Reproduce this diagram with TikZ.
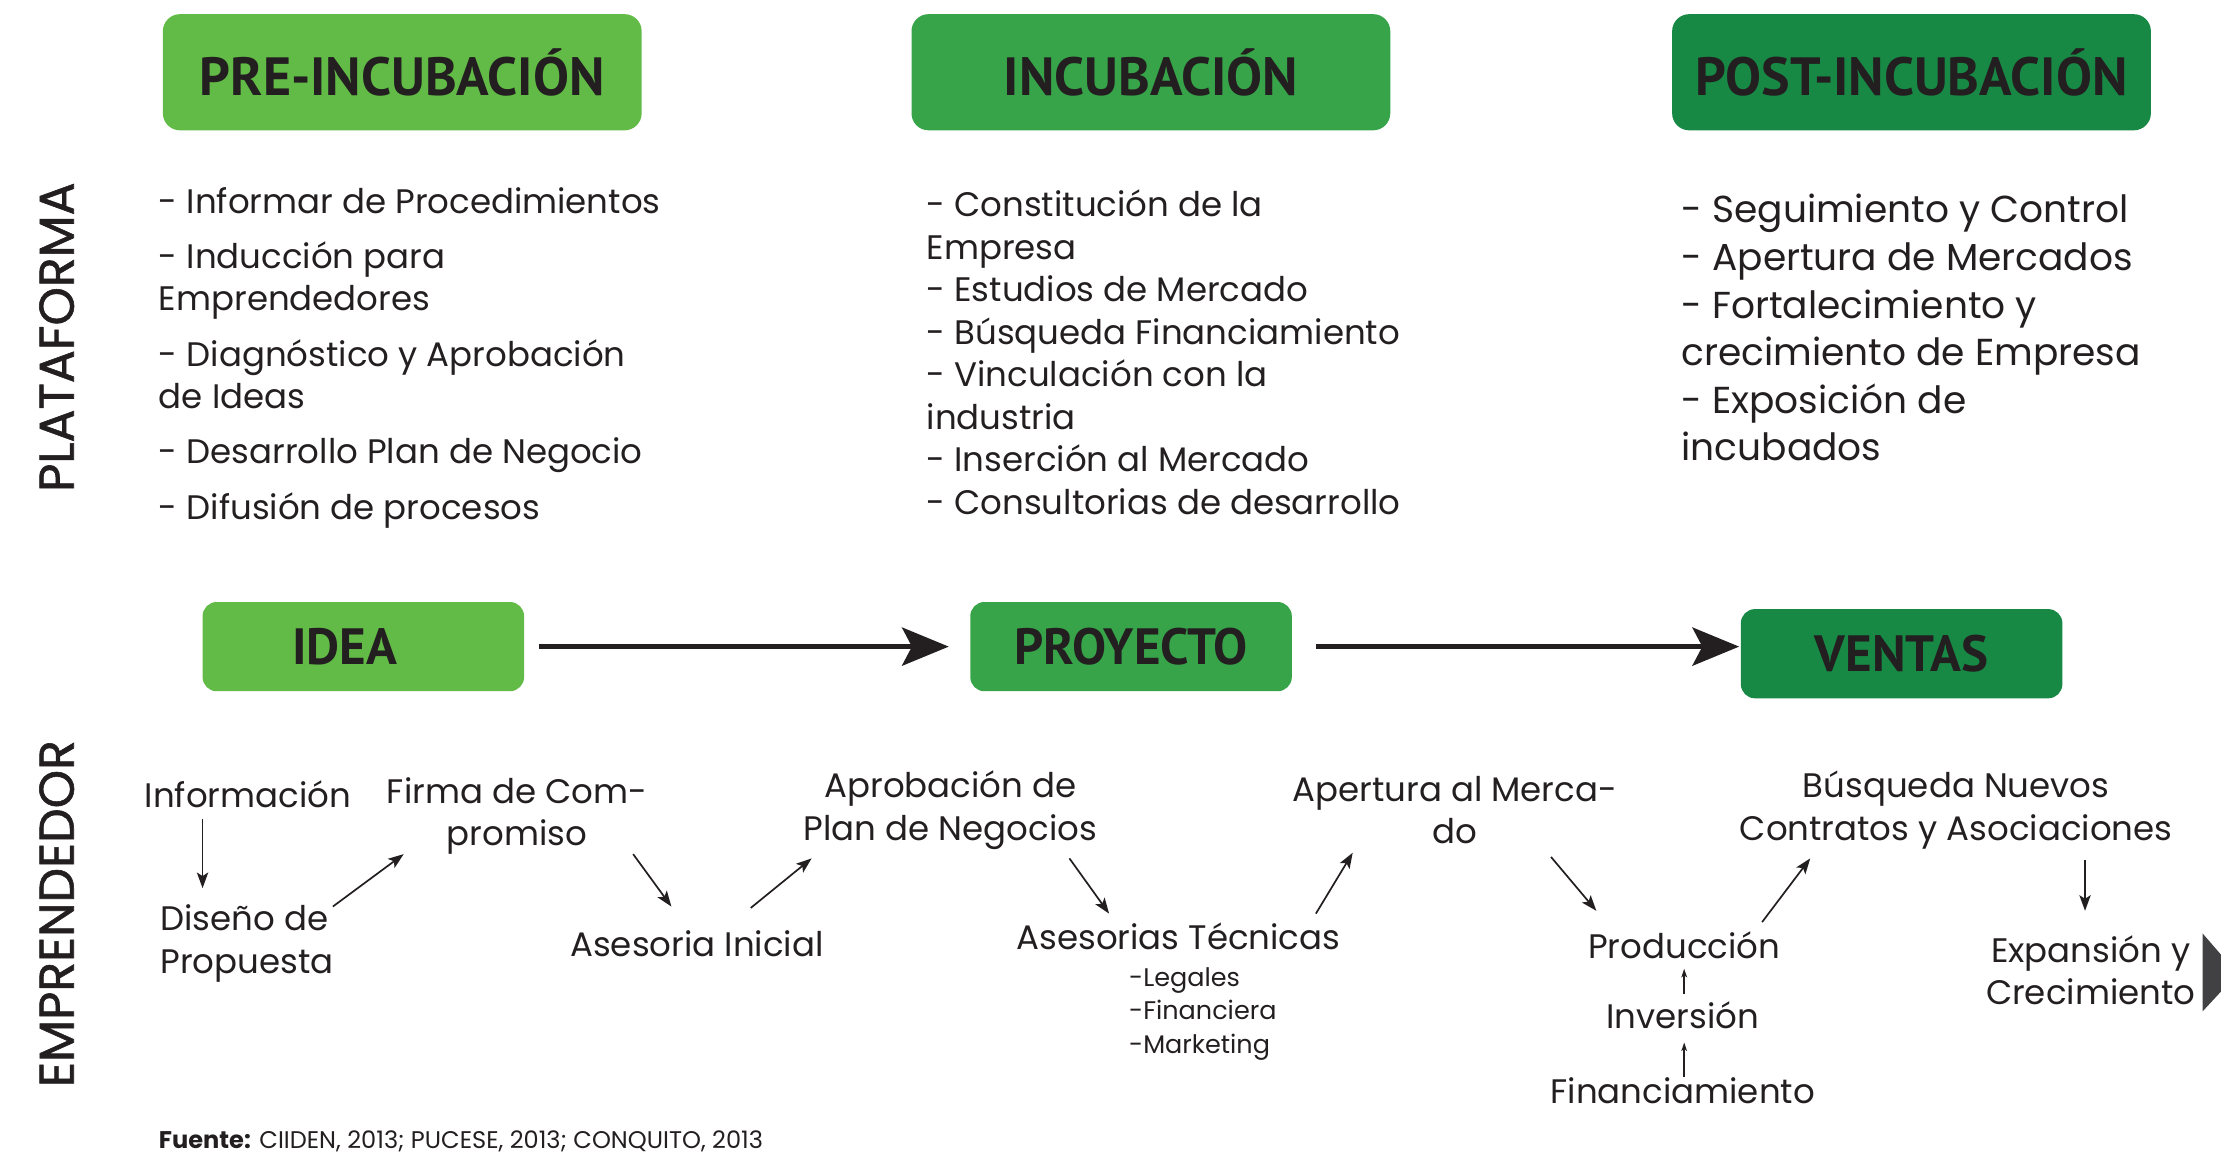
\documentclass[tikz,border=0pt]{standalone}
\usepackage{fontspec}
\setmainfont{Poppins}
\newfontfamily\headfont{PT Sans}
\newfontfamily\sidefont{Poppins}[FakeBold=1.2]
\usetikzlibrary{arrows.meta}
\definecolor{ink}{HTML}{231F20}
\definecolor{lightg}{HTML}{62BB46}
\definecolor{midg}{HTML}{37A44A}
\definecolor{darkg}{HTML}{188845}
\definecolor{tipgray}{HTML}{414042}

\begin{document}
\begin{tikzpicture}[
    x=1pt, y=-1pt,
    every node/.style={text=ink, inner sep=0pt},
    phase/.style ={rounded corners=12pt, minimum width=338pt, minimum height=82pt,
                   font=\headfont\bfseries\fontsize{38}{44}\selectfont},
    stage/.style ={rounded corners=10pt, minimum width=227pt, minimum height=63pt,
                   font=\headfont\bfseries\fontsize{36}{40}\selectfont},
    items/.style ={anchor=north west, align=left, font=\fontsize{24}{30}\selectfont},
    side/.style  ={rotate=90, font=\sidefont\fontsize{34.5}{38}\selectfont},
    txt/.style   ={align=center, font=\fontsize{24}{30}\selectfont},
    flow/.style  ={-{Stealth[length=33pt, width=27pt, inset=7pt]}, line width=3pt, draw=ink},
    link/.style  ={-{Stealth[length=11pt, width=8pt, inset=2.5pt]}, line width=1.2pt, draw=ink},
    tiny/.style  ={-{Stealth[length=6pt, width=4pt, inset=1.5pt]}, line width=1pt, draw=ink},
]
\useasboundingbox (0,0) rectangle (1568,814);

\node[phase, fill=lightg] (pre)  at (284,51)    {PRE-INCUBACIÓN};
\node[phase, fill=midg]   (inc)  at (812.5,51)  {INCUBACIÓN};
\node[phase, fill=darkg]  (post) at (1349.5,51) {POST-INCUBACIÓN};

\node[side] (plat) at (40,238) {PLATAFORMA};
\node[side] (empr) at (40,645) {EMPRENDEDOR};

\node[items] (prelist) at (112,132) {- Informar de Procedimientos\\[9pt]
    - Inducción para\\Emprendedores\\[9pt]
    - Diagnóstico y Aprobación\\de Ideas\\[9pt]
    - Desarrollo Plan de Negocio\\[9pt]
    - Difusión de procesos};
\node[items] (inclist) at (654,134) {- Constitución de la\\Empresa\\
    - Estudios de Mercado\\- Búsqueda Financiamiento\\
    - Vinculación con la\\industria\\
    - Inserción al Mercado\\- Consultorias de desarrollo};
\node[items, font=\fontsize{26.5}{33.6}\selectfont] (postlist) at (1187,137)
    {- Seguimiento y Control\\- Apertura de Mercados\\
     - Fortalecimiento y\\crecimiento de Empresa\\
     - Exposición de\\incubados};

\node[stage, fill=lightg] (idea) at (256.5,456.5)  {IDEA\hspace*{26pt}};
\node[stage, fill=midg]   (proj) at (798.5,456.5)  {PROYECTO};
\node[stage, fill=darkg]  (vent) at (1342.5,461.5) {VENTAS};
\draw[flow, shorten <=10pt, shorten >=15pt] (idea.east) -- (proj.west);
\draw[flow, shorten <=17pt, shorten >=1pt] (proj.east) -- (proj.east -| vent.west);

\node[txt] (info)  at (175,561)  {Información};
\node[txt] (firma) at (365,576)  {Firma de Com-\\promiso};
\node[txt, align=left, anchor=west] (dis) at (113,666) {Diseño de\\Propuesta};
\node[txt] (ases)  at (492,666)  {Asesoria Inicial};
\node[txt] (aprob) at (671,572)  {Aprobación de\\Plan de Negocios};
\node[txt] (tec)   at (832,661)  {Asesorias Técnicas};
\node[items, font=\fontsize{18}{23.5}\selectfont] (tecsub) at (797,683)
    {-Legales\\-Financiera\\-Marketing};
\node[txt] (apert) at (1027,572) {Apertura al Merca-\\do};
\node[txt] (prod)  at (1189,667) {Producción};
\node[txt] (inv)   at (1188,717) {Inversión};
\node[txt] (fin)   at (1188,770) {Financiamiento};
\node[txt] (busq)  at (1381,572) {Búsqueda Nuevos\\Contratos y Asociaciones};
\node[txt] (expn)  at (1476,685) {Expansión y\\Crecimiento};

\draw[link] ([shift={(-32,17)}]info.center) -- ([shift={(30,-39)}]dis.west);
\draw[link] ([shift={(122,-26)}]dis.west)   -- ([shift={(-80,27)}]firma.center);
\draw[link] ([shift={(82,27)}]firma.center) -- ([shift={(-18,-26)}]ases.center);
\draw[link] ([shift={(38,-25)}]ases.center) -- ([shift={(-98,34)}]aprob.center);
\draw[link] ([shift={(84,34)}]aprob.center) -- ([shift={(-49,-16)}]tec.center);
\draw[link] ([shift={(97,-16)}]tec.center)  -- ([shift={(-72,30)}]apert.center);
\draw[link] ([shift={(68,33)}]apert.center) -- ([shift={(-62,-24)}]prod.center);
\draw[link] ([shift={(55,-16)}]prod.center) -- ([shift={(-103,34)}]busq.center);
\draw[link] ([shift={(91,35)}]busq.center)  -- ([shift={(-4,-42)}]expn.center);
\draw[tiny] ([shift={(1,-15)}]inv.center)   -- ([shift={(0,17)}]prod.center);
\draw[tiny] ([shift={(1,-10)}]fin.center)   -- ([shift={(1,19)}]inv.center);

% cut-off marker at the right edge
\fill[tipgray] (1555,659) -- (1568,674) -- (1568,700) -- (1555,714) -- cycle;

\node[anchor=base west, font=\fontsize{17}{20}\selectfont] (src) at (112,811)
    {\textbf{Fuente:} CIIDEN, 2013; PUCESE, 2013; CONQUITO, 2013};
\end{tikzpicture}
\end{document}
